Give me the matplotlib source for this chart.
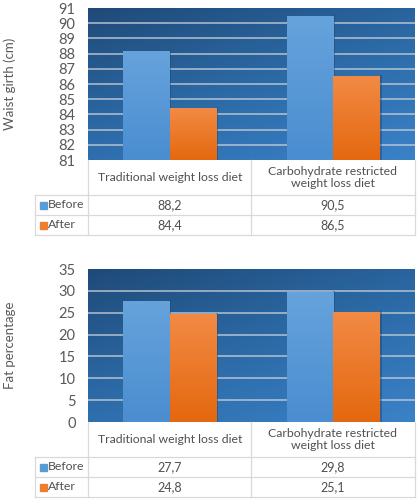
import numpy as np
import matplotlib
matplotlib.use("Agg")
import matplotlib.pyplot as plt
from matplotlib.lines import Line2D
from matplotlib.colors import LinearSegmentedColormap

plt.rcParams['font.family'] = ['Lato', 'DejaVu Sans']

categories = ["Traditional weight loss diet", "Carbohydrate restricted\nweight loss diet"]
series_names = ["Before", "After"]
waist_before = [88.2, 90.5]
waist_after = [84.4, 86.5]
waist_labels = [["88,2", "90,5"], ["84,4", "86,5"]]
fat_before = [27.7, 29.8]
fat_after = [24.8, 25.1]
fat_labels = [["27,7", "29,8"], ["24,8", "25,1"]]
waist_ticks = list(range(81, 92))
fat_ticks = list(range(0, 36, 5))

W, H = 418, 500
fig = plt.figure(figsize=(W / 100, H / 100), dpi=100)

BLUE = "#5b9bd5"
ORANGE = "#ed7d31"
GRID = "#c4ccd6"
LINE = "#d9d9d9"
TXT = "#505050"

bg_cmap = LinearSegmentedColormap.from_list("bg", ["#1f4a78", "#2c6aa6", "#3a82c8"])
blue_cmap = LinearSegmentedColormap.from_list("bl", ["#4a8dd0", "#66a3dc"])
orange_cmap = LinearSegmentedColormap.from_list("or", ["#e4680f", "#f28a44"])


def fx(px):
    return px / W


def fy(py):
    return 1 - py / H


def panel(top_px, bot_px, before, after, labels, ticks, ylabel):
    ax = fig.add_axes([fx(88), fy(bot_px), fx(415) - fx(88), fy(top_px) - fy(bot_px)])
    ymin, ymax = ticks[0], ticks[-1]
    ax.set_xlim(-0.5, 1.5)
    ax.set_ylim(ymin, ymax)
    yy, xx = np.mgrid[0:1:200j, 0:1:200j]
    grad = 0.6 * yy + 0.4 * xx
    ax.imshow(grad, extent=[-0.5, 1.5, ymin, ymax], origin="upper", aspect="auto",
              cmap=bg_cmap, vmin=0, vmax=1, zorder=0)
    for t in ticks[1:-1]:
        ax.axhline(t, color=GRID, lw=1.1, zorder=1, alpha=0.9)
    x = np.arange(len(before))
    w = 0.285
    for vals, off, cm in [(before, -w / 2, blue_cmap), (after, w / 2, orange_cmap)]:
        bars = ax.bar(x + off, [v - ymin for v in vals], w, bottom=ymin,
                      color="none", edgecolor="none", zorder=2)
        for b in bars:
            x0, y0 = b.get_x(), b.get_y()
            x1, y1 = x0 + b.get_width(), y0 + b.get_height()
            g = np.linspace(0, 1, 100).reshape(-1, 1)
            im = ax.imshow(g, extent=[x0, x1, y0, y1], origin="lower", aspect="auto",
                           cmap=cm, vmin=0, vmax=1, zorder=3)
            im.set_clip_path(b)
            ax.plot([x1 + 0.004, x1 + 0.004], [y0, y1], color="#1d3f66", lw=1.2,
                    alpha=0.5, zorder=2.5)
    ax.set_xlim(-0.5, 1.5)
    ax.set_ylim(ymin, ymax)
    ax.set_yticks(ticks)
    ax.set_yticklabels([str(t) for t in ticks], fontsize=10.5, color="#595959")
    ax.tick_params(axis="y", length=0, pad=9)
    ax.set_xticks([])
    for s in ax.spines.values():
        s.set_visible(False)
    fig.text(fx(10), (fy(top_px) + fy(bot_px)) / 2, ylabel, rotation=90,
             ha="center", va="center", fontsize=9.5, color="#595959")
    return ax


def table(top_px, labels):
    r1 = top_px + 35
    r2 = r1 + 20
    r3 = r2 + 20
    L = [(88, 88, top_px, r3), (251, 251, top_px, r3), (415, 415, top_px, r3),
         (35, 35, r1, r3),
         (35, 415, r1, r1), (35, 415, r2, r2), (35, 415, r3, r3)]
    for x0, x1, y0, y1 in L:
        fig.add_artist(Line2D([fx(x0), fx(x1)], [fy(y0), fy(y1)], color=LINE, lw=0.9))
    centers = [170, 333]
    for c, cat in zip(centers, categories):
        fig.text(fx(c), fy(top_px + 17.5), cat, ha="center", va="center",
                 fontsize=8.8, color=TXT, linespacing=1.2)
    for i, (name, col) in enumerate(zip(series_names, [BLUE, ORANGE])):
        yc = (r1 + 10) if i == 0 else (r2 + 10)
        fig.add_artist(plt.Rectangle((fx(40), fy(yc + 3.5)), fx(7), fy(0) - fy(7),
                                     color=col, transform=fig.transFigure))
        fig.text(fx(48), fy(yc), name, ha="left", va="center", fontsize=8.8, color=TXT)
        for c, lab in zip(centers, labels[i]):
            fig.text(fx(c), fy(yc), lab, ha="center", va="center", fontsize=9, color=TXT)


ax1 = panel(8, 160, waist_before, waist_after, waist_labels, waist_ticks, "Waist girth (cm)")
table(160, waist_labels)
ax2 = panel(269, 422, fat_before, fat_after, fat_labels, fat_ticks, "Fat percentage")
table(422, fat_labels)

fig.savefig("out.png", dpi=100)
